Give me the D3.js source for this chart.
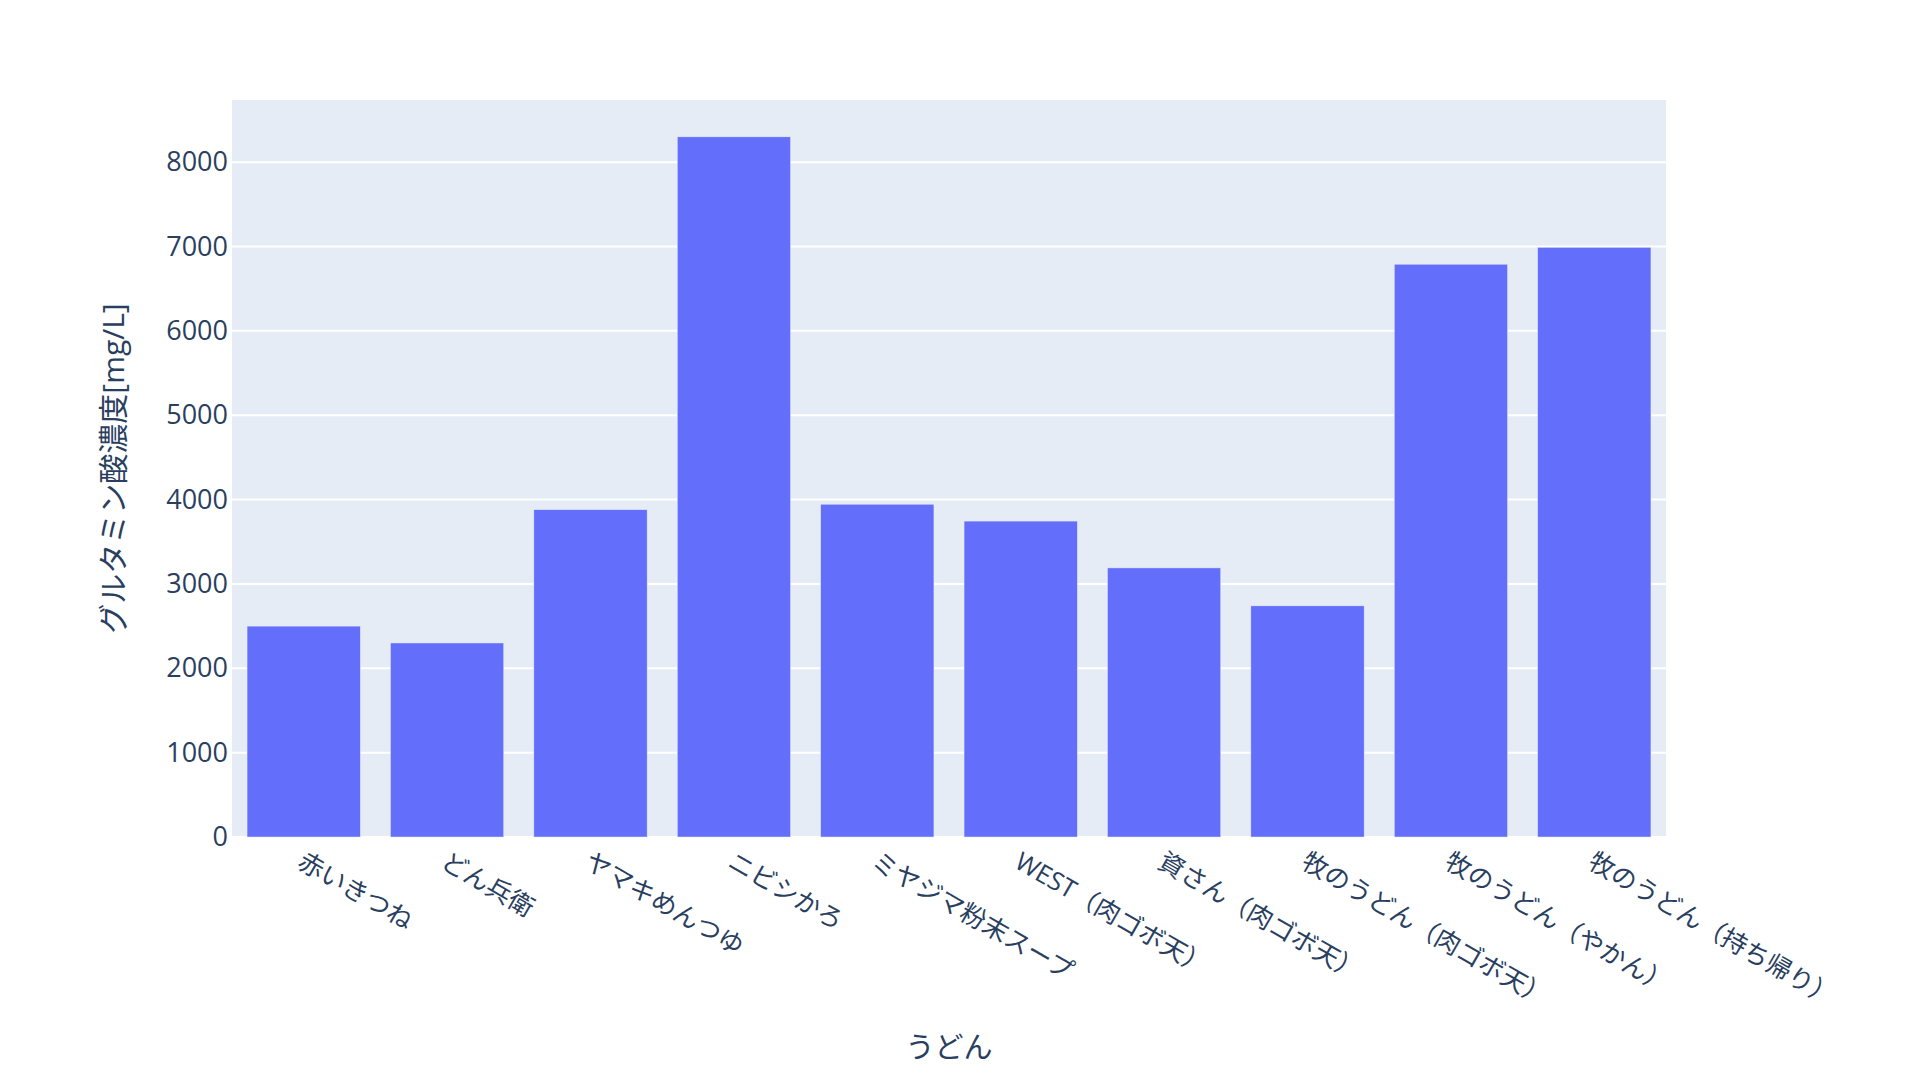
<!DOCTYPE html>
<html>
<head>
<meta charset="utf-8">
<script src="https://cdn.jsdelivr.net/npm/d3@7"></script>
<style>
  body { margin: 0; background: #fff; }
  text { font-family: "Open Sans", "Noto Sans CJK JP", sans-serif; fill: #2a3f5f; }
</style>
</head>
<body>
<div id="chart"></div>
<script>
// データ
const udon = ["赤いきつね", "どん兵衛", "ヤマキめんつゆ", "ニビシかろ", "ミヤジマ粉末スープ",
  "WEST（肉ゴボ天）", "資さん（肉ゴボ天）", "牧のうどん（肉ゴボ天）", "牧のうどん（やかん）", "牧のうどん（持ち帰り）"];
const glutamate = [2500, 2300, 3880, 8300, 3945, 3745, 3190, 2740, 6790, 6990];
const yTicks = [0, 1000, 2000, 3000, 4000, 5000, 6000, 7000, 8000];
const xTitle = "うどん";
const yTitle = "グルタミン酸濃度[mg/L]";

const width = 1920, height = 1080;
const margin = {top: 100, right: 254, bottom: 243, left: 232};
const w = width - margin.left - margin.right;
const h = height - margin.top - margin.bottom;

const svg = d3.select("#chart").append("svg")
  .attr("width", width)
  .attr("height", height);

const g = svg.append("g")
  .attr("transform", `translate(${margin.left},${margin.top})`);

// 背景
g.append("rect")
  .attr("width", w)
  .attr("height", h)
  .attr("fill", "#E5ECF6");

const x = d3.scaleBand()
  .domain(udon)
  .range([0, w])
  .paddingInner(0.21)
  .paddingOuter(0.105);

const y = d3.scaleLinear()
  .domain([0, d3.max(glutamate) * 1.0526])
  .range([h, 0]);

// グリッド
g.selectAll(".grid")
  .data(yTicks)
  .join("line")
    .attr("x1", 0)
    .attr("x2", w)
    .attr("y1", d => y(d))
    .attr("y2", d => y(d))
    .attr("stroke", "#fff")
    .attr("stroke-width", 2);

// 棒
g.selectAll(".bar")
  .data(udon)
  .join("rect")
    .attr("x", d => x(d))
    .attr("y", (d, i) => y(glutamate[i]))
    .attr("width", x.bandwidth())
    .attr("height", (d, i) => h - y(glutamate[i]))
    .attr("fill", "#636efa")
    .attr("stroke", "#E5ECF6")
    .attr("stroke-width", 0.5);

// Y軸
const yAxis = g.append("g")
  .call(d3.axisLeft(y).tickValues(yTicks).tickFormat(d3.format("d")).tickSize(0).tickPadding(4));
yAxis.select(".domain").remove();
yAxis.selectAll("text")
  .attr("font-size", 27)
  .attr("font-family", null)
  .attr("fill", null);

// X軸
const xAxis = g.append("g")
  .attr("transform", `translate(0,${h})`)
  .call(d3.axisBottom(x).tickSize(0));
xAxis.select(".domain").remove();
xAxis.selectAll("text")
  .attr("font-size", 25.5)
  .attr("font-family", null)
  .attr("fill", null)
  .attr("y", 0)
  .attr("dy", null)
  .attr("text-anchor", "start")
  .attr("dominant-baseline", "hanging")
  .attr("transform", "translate(3,11) rotate(30)");

// 軸タイトル
svg.append("text")
  .attr("x", margin.left + w / 2)
  .attr("y", 1058)
  .attr("text-anchor", "middle")
  .attr("font-size", 29)
  .text(xTitle);

svg.append("text")
  .attr("transform", `translate(124,${margin.top + h / 2}) rotate(-90)`)
  .attr("text-anchor", "middle")
  .attr("font-size", 30)
  .text(yTitle);
</script>
</body>
</html>
